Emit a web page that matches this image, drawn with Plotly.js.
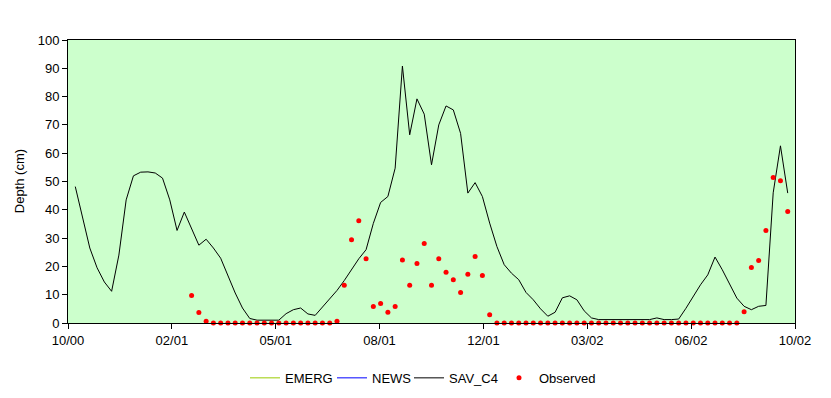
<!DOCTYPE html>
<html>
<head>
<meta charset="utf-8">
<script src="https://cdn.plot.ly/plotly-3.0.1.min.js"></script>
<style>html,body{margin:0;padding:0;background:#fff;}#chart{width:831px;height:398px;}</style>
</head>
<body>
<div id="chart"></div>
<script>
// Weekly dates of the simulated series
var weekDates = [
"2000-11-07","2000-11-14","2000-11-21","2000-11-28","2000-12-05","2000-12-12","2000-12-19","2000-12-26",
"2001-01-02","2001-01-09","2001-01-16","2001-01-23","2001-01-30","2001-02-06","2001-02-13","2001-02-20",
"2001-02-27","2001-03-06","2001-03-13","2001-03-20","2001-03-27","2001-04-03","2001-04-10","2001-04-17",
"2001-04-24","2001-05-01","2001-05-08","2001-05-15","2001-05-22","2001-05-29","2001-06-05","2001-06-12",
"2001-06-19","2001-06-26","2001-07-03","2001-07-10","2001-07-17","2001-07-24","2001-07-31","2001-08-07",
"2001-08-14","2001-08-21","2001-08-28","2001-09-04","2001-09-11","2001-09-18","2001-09-25","2001-10-02",
"2001-10-09","2001-10-16","2001-10-23","2001-10-30","2001-11-06","2001-11-13","2001-11-20","2001-11-27",
"2001-12-04","2001-12-11","2001-12-18","2001-12-25","2002-01-01","2002-01-08","2002-01-15","2002-01-22",
"2002-01-29","2002-02-05","2002-02-12","2002-02-19","2002-02-26","2002-03-05","2002-03-12","2002-03-19",
"2002-03-26","2002-04-02","2002-04-09","2002-04-16","2002-04-23","2002-04-30","2002-05-07","2002-05-14",
"2002-05-21","2002-05-28","2002-06-04","2002-06-11","2002-06-18","2002-06-25","2002-07-02","2002-07-09",
"2002-07-16","2002-07-23","2002-07-30","2002-08-06","2002-08-13","2002-08-20","2002-08-27","2002-09-03",
"2002-09-10","2002-09-17","2002-09-24"
];

// SAV_C4 simulated depth (cm)
var savC4 = [
48.2,37,26.5,19.5,14.5,11.2,24,43.5,
52,53.3,53.4,53,51.2,43.5,32.7,39.2,
33.5,27.5,29.6,26.5,22.9,16.5,10.6,5.3,
1.6,1.0,1.0,1.0,1.0,3.3,4.7,5.3,
3.2,2.7,5.6,8.5,11.5,15,19,22.7,
25.9,35.2,42.6,44.7,54.7,90.8,66.5,79.2,
73.8,55.9,70,76.7,75.3,67,45.9,49.6,
44.7,35.3,27,20.6,17.6,15.3,10.8,8.2,
5,2.4,3.8,8.9,9.6,8.2,4.3,1.8,
1.2,1.2,1.2,1.2,1.2,1.2,1.2,1.2,
1.8,1.2,1.2,1.4,5.2,9.3,13.5,17,
23.3,18.8,13.5,8.8,5.9,4.7,5.9,6.2,
46,62.6,45.9
];

// EMERG and NEWS: listed in the legend, no values visible in the plot
var emerg = [null];
var news = [null];

// Observed depth (cm), weekly from 2001-02-27
var obsDates = weekDates.slice(16);
var observed = [
9.7,3.7,0.6,0,0,0,0,0,
0,0,0,0,0,0,0,0,
0,0,0,0,0.6,13.3,29.4,36.1,
22.7,5.8,6.9,3.8,5.8,22.3,13.3,21,
28.1,13.3,22.7,17.9,15.3,10.8,17.2,23.5,
16.8,2.9,0,0,0,0,0,0,
0,0,0,0,0,0,0,0,
0,0,0,0,0,0,0,0,
0,0,0,0,0,0,0,0,
0,0,0,0,4.0,19.6,22.1,32.7,
51.4,50.3,39.4
];

// Axis ticks and title
var tickDates = ["2000-10-31","2001-02-08","2001-05-19","2001-08-27","2001-12-05","2002-03-15","2002-06-23","2002-10-01"];
var tickLabels = ["10/00","02/01","05/01","08/01","12/01","03/02","06/02","10/02"];
var yTitle = "Depth (cm)";

var fontFam = "Liberation Sans, Arial, sans-serif";

var traces = [
  {name:"EMERG", x:weekDates.slice(0,1), y:emerg, type:"scatter", mode:"lines", showlegend:true, legend:"legend",
   line:{color:"#99cc00", width:1}},
  {name:"NEWS", x:weekDates.slice(0,1), y:news, type:"scatter", mode:"lines", showlegend:true, legend:"legend2",
   line:{color:"#0000ff", width:1}},
  {name:"SAV_C4", x:weekDates, y:savC4, type:"scatter", mode:"lines", showlegend:true, legend:"legend3",
   line:{color:"#000000", width:1}},
  {name:"Observed", x:obsDates, y:observed, type:"scatter", mode:"markers", cliponaxis:false, showlegend:true, legend:"legend4",
   marker:{color:"#ff0000", size:5, symbol:"circle"}}
];

function leg(px) {
  return {orientation:"h", xref:"container", x:px/831, xanchor:"left", y:-0.194, yanchor:"middle",
          font:{family:fontFam, size:13, color:"#000"}, itemwidth:30, bgcolor:"rgba(0,0,0,0)", borderwidth:0};
}

var layout = {
  width:831, height:398,
  margin:{l:68, r:36, t:40, b:75, autoexpand:false},
  paper_bgcolor:"#ffffff",
  plot_bgcolor:"#ccffcc",
  font:{family:fontFam, size:13, color:"#000"},
  showlegend:true,
  legend:leg(245),
  legend2:leg(332),
  legend3:leg(409),
  legend4:leg(499),
  xaxis:{type:"date", range:["2000-10-31","2002-10-01"], tickmode:"array", tickvals:tickDates, ticktext:tickLabels,
         ticks:"outside", ticklen:5, tickcolor:"#000", showline:true, mirror:true, linecolor:"#000", linewidth:1,
         showgrid:false, zeroline:false, tickfont:{family:fontFam, size:13, color:"#000"}},
  yaxis:{range:[0,100], dtick:10, tick0:0, ticks:"outside", ticklen:5, tickcolor:"#000",
         showline:true, mirror:true, linecolor:"#000", linewidth:1, showgrid:false, zeroline:false,
         tickfont:{family:fontFam, size:13, color:"#000"}},
  annotations:[{text:yTitle, textangle:-90, xref:"paper", yref:"paper", x:-0.0664, y:0.5,
                xanchor:"center", yanchor:"middle", showarrow:false,
                font:{family:fontFam, size:13, color:"#000"}}]
};

Plotly.newPlot("chart", traces, layout, {displayModeBar:false, staticPlot:true});
</script>
</body>
</html>
